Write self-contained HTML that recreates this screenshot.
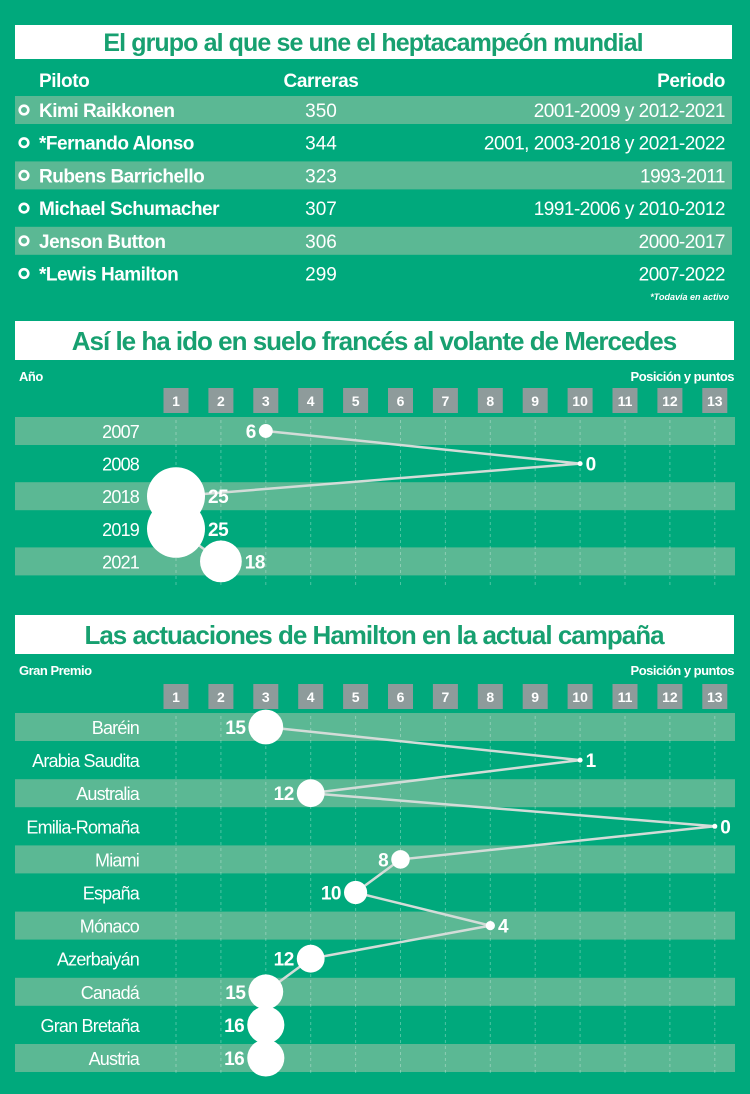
<!DOCTYPE html>
<html><head><meta charset="utf-8"><style>
html,body{margin:0;padding:0;background:#00a97c;}
svg{display:block;font-family:"Liberation Sans Narrow","Liberation Sans",sans-serif;}
</style></head><body>
<svg id="s" width="750" height="1094" viewBox="0 0 750 1094" xmlns="http://www.w3.org/2000/svg">
<rect x="0" y="0" width="750" height="1094" fill="#00a97c"/>
<g id="tbl">
<rect x="15" y="25" width="717" height="34" fill="#fff"/>
<text x="373" y="51" text-anchor="middle" font-size="25" font-weight="bold" fill="#17a070" letter-spacing="-0.9">El grupo al que se une el heptacampeón mundial</text>
<text x="39" y="87" font-size="19" font-weight="bold" fill="#fff" letter-spacing="-0.4">Piloto</text>
<text x="321" y="87" text-anchor="middle" font-size="19" font-weight="bold" fill="#fff" letter-spacing="-0.4">Carreras</text>
<text x="725" y="87" text-anchor="end" font-size="19" font-weight="bold" fill="#fff" letter-spacing="-0.4">Periodo</text>
</g>
<g id="c1"></g>
<g id="c2"></g>
</svg>
<script>
const drivers=["Kimi Raikkonen","*Fernando Alonso","Rubens Barrichello","Michael Schumacher","Jenson Button","*Lewis Hamilton"];
const races=[350,344,323,307,306,299];
const periods=["2001-2009 y 2012-2021","2001, 2003-2018 y 2021-2022","1993-2011","1991-2006 y 2010-2012","2000-2017","2007-2022"];

const years=["2007","2008","2018","2019","2021"];
const yearPos=[3,10,1,1,2];
const yearPts=[6,0,25,25,18];
const yearLabelSide=["left","right","right","right","right"];

const gps=["Baréin","Arabia Saudita","Australia","Emilia-Romaña","Miami","España","Mónaco","Azerbaiyán","Canadá","Gran Bretaña","Austria"];
const gpPos=[3,10,4,13,6,5,8,4,3,3,3];
const gpPts=[15,1,12,0,8,10,4,12,15,16,16];
const gpLabelSide=["left","right","left","right","left","left","right","left","left","left","left"];
const ticks=["1","2","3","4","5","6","7","8","9","10","11","12","13"];

const NS="http://www.w3.org/2000/svg";
function mk(parent,tag,attrs,text){const e=document.createElementNS(NS,tag);for(const k in attrs)e.setAttribute(k,attrs[k]);if(text!==undefined)e.textContent=text;parent.appendChild(e);return e;}

const tbl=document.getElementById('tbl');
drivers.forEach((d,i)=>{
  const cy=110+i*32.7;
  if(i%2===0){const b=mk(tbl,'rect',{x:15,y:cy-14,width:717,height:28,fill:'#5bb894'});
    
    }
  const c=mk(tbl,'circle',{cx:24,cy:cy,r:4.3,fill:'none',stroke:'#fff','stroke-width':2.6});
  
  
  const t1=mk(tbl,'text',{x:39,y:cy+7,'font-size':19,'font-weight':'bold',fill:'#fff','letter-spacing':'-0.5'},d);
  
  
  const t2=mk(tbl,'text',{x:321,y:cy+7,'text-anchor':'middle','font-size':19,fill:'#fff'},races[i]);
  
  
  const t3=mk(tbl,'text',{x:725,y:cy+7,'text-anchor':'end','font-size':19,fill:'#fff','letter-spacing':'-0.5'},periods[i]);
  
  
});
const fn=mk(tbl,'text',{x:729,y:300,'text-anchor':'end','font-size':9,'font-style':'italic','font-weight':'bold',fill:'#fff'},'*Todavía en activo');



function xScale(p){return 176+(p-1)*44.9;}
function rScale(pts){return Math.max(2.5,pts*1.16);}

function chart(g,cfg){
  const {title,titleY,leftHead,headY,tickY,rowY0,rowStep,cats,pos,pts,side,gridEnd}=cfg;
  const tb=mk(g,'rect',{x:15,y:titleY,width:719,height:39,fill:'#fff'});
  
  
  const tt=mk(g,'text',{x:374,y:titleY+29,'text-anchor':'middle','font-size':26,'font-weight':'bold',fill:'#17a070','letter-spacing':'-1'},title);
  
  
  const lh=mk(g,'text',{x:19,y:headY,'font-size':13,'font-weight':'bold',fill:'#fff','letter-spacing':'-0.5'},leftHead);
  
  
  const rh=mk(g,'text',{x:734,y:headY,'text-anchor':'end','font-size':13,'font-weight':'bold',fill:'#fff','letter-spacing':'-0.5'},'Posición y puntos');
  
  
  cats.forEach((c,i)=>{
    if(i%2===0){const b=mk(g,'rect',{x:15,y:rowY0+i*rowStep-14,width:720,height:28,fill:'#5bb894'});
      
      }
  });
  ticks.forEach((t,i)=>{
    const x=xScale(i+1);
    const bx=mk(g,'rect',{x:x-12.5,y:tickY,width:25,height:25,fill:'#8e9b9b'});
    
    
    const tx=mk(g,'text',{x:x,y:tickY+18,'text-anchor':'middle','font-size':14,'font-weight':'bold',fill:'#fff'},t);
    
    
    const gl=mk(g,'line',{x1:x,y1:tickY+32,x2:x,y2:gridEnd,stroke:'#ffffff','stroke-opacity':0.3,'stroke-width':1,'stroke-dasharray':'3,3'});
    
    
  });
  cats.forEach((c,i)=>{
    const lt=mk(g,'text',{x:139,y:rowY0+i*rowStep+7,'text-anchor':'end','font-size':18,fill:'#fff','letter-spacing':'-0.8'},c);
    
    
  });
  const d=pos.map((p,i)=>(i?'L':'M')+xScale(p)+','+(rowY0+i*rowStep)).join(' ');
  const pl=mk(g,'path',{d:d,fill:'none',stroke:'#d3dcd8','stroke-width':2.5});
  
  
  pos.forEach((p,i)=>{
    const cx=xScale(p),cy=rowY0+i*rowStep,r=rScale(pts[i]);
    const ci=mk(g,'circle',{cx:cx,cy:cy,r:r,fill:'#fff'});
    
    
    const left=side[i]==='left';
    const lx=left?cx-r-3:cx+r+3;
    const vl=mk(g,'text',{x:lx,y:cy+7,'text-anchor':left?'end':'start','font-size':19,'font-weight':'bold',fill:'#fff','letter-spacing':'-0.5'},pts[i]);
    
    
  });
}
chart(document.getElementById('c1'),{title:'Así le ha ido en suelo francés al volante de Mercedes',titleY:321,leftHead:'Año',headY:381,tickY:388,rowY0:431,rowStep:32.6,cats:years,pos:yearPos,pts:yearPts,side:yearLabelSide,gridEnd:588});
chart(document.getElementById('c2'),{title:'Las actuaciones de Hamilton en la actual campaña',titleY:615,leftHead:'Gran Premio',headY:675,tickY:684,rowY0:727,rowStep:33.1,cats:gps,pos:gpPos,pts:gpPts,side:gpLabelSide,gridEnd:1073});
</script>
</body></html>
